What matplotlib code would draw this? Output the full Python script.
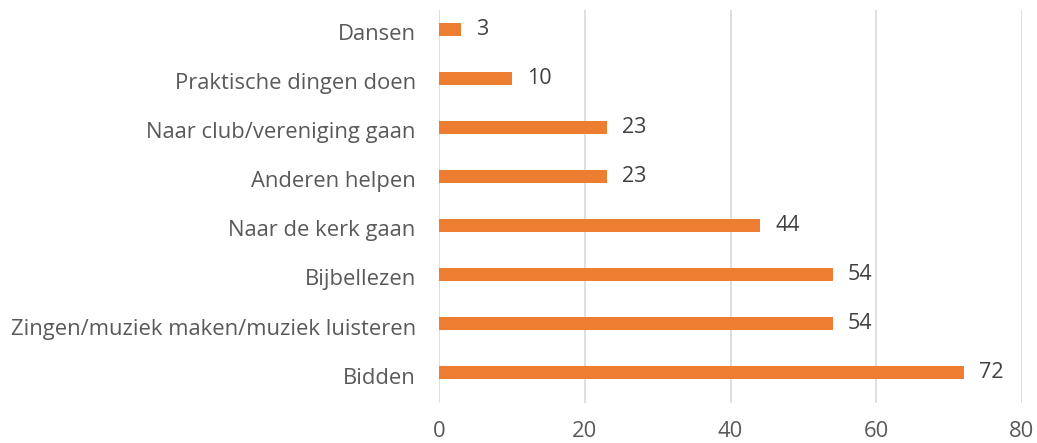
import matplotlib.pyplot as plt
import matplotlib as mpl
import matplotlib.transforms as mtransforms

mpl.rcParams["font.family"] = ["Open Sans", "DejaVu Sans"]

categories = ["Bidden", "Zingen/muziek maken/muziek luisteren", "Bijbellezen",
              "Naar de kerk gaan", "Anderen helpen", "Naar club/vereniging gaan",
              "Praktische dingen doen", "Dansen"]
values = [72, 54, 54, 44, 23, 23, 10, 3]
xticks = [0, 20, 40, 60, 80]

text_col = "#595959"
bar_col = "#ED7D31"

fig = plt.figure(figsize=(10.37, 4.43), dpi=100)
ax = fig.add_axes([0.4236, 0.0903, 0.5619, 0.8871])

y = range(len(categories))
ax.barh(y, values, height=0.27, color=bar_col, zorder=3)
for i, v in zip(y, values):
    ax.annotate(str(v), (v, i), xytext=(11, 0), textcoords="offset points",
                va="center", ha="left", fontsize=15.5, color="#404040")

ax.set_xlim(0, 80)
ax.set_ylim(-0.62, 7.39)
ax.set_xticks(xticks)
ax.set_yticks(list(y))
ax.set_yticklabels(categories)
ax.tick_params(axis="both", length=0, labelsize=15.8, labelcolor=text_col)
ax.tick_params(axis="x", pad=13)
ax.tick_params(axis="y", pad=17)
ax.grid(axis="x", color="#d9d9d9", linewidth=1.2, zorder=0)
for s in ax.spines.values():
    s.set_visible(False)

# category labels sit a little below the bar centre in the original
shift = mtransforms.ScaledTranslation(0, -3 / 100, fig.dpi_scale_trans)
for lbl in ax.get_yticklabels():
    lbl.set_transform(lbl.get_transform() + shift)

plt.savefig("out.png", dpi=100)
